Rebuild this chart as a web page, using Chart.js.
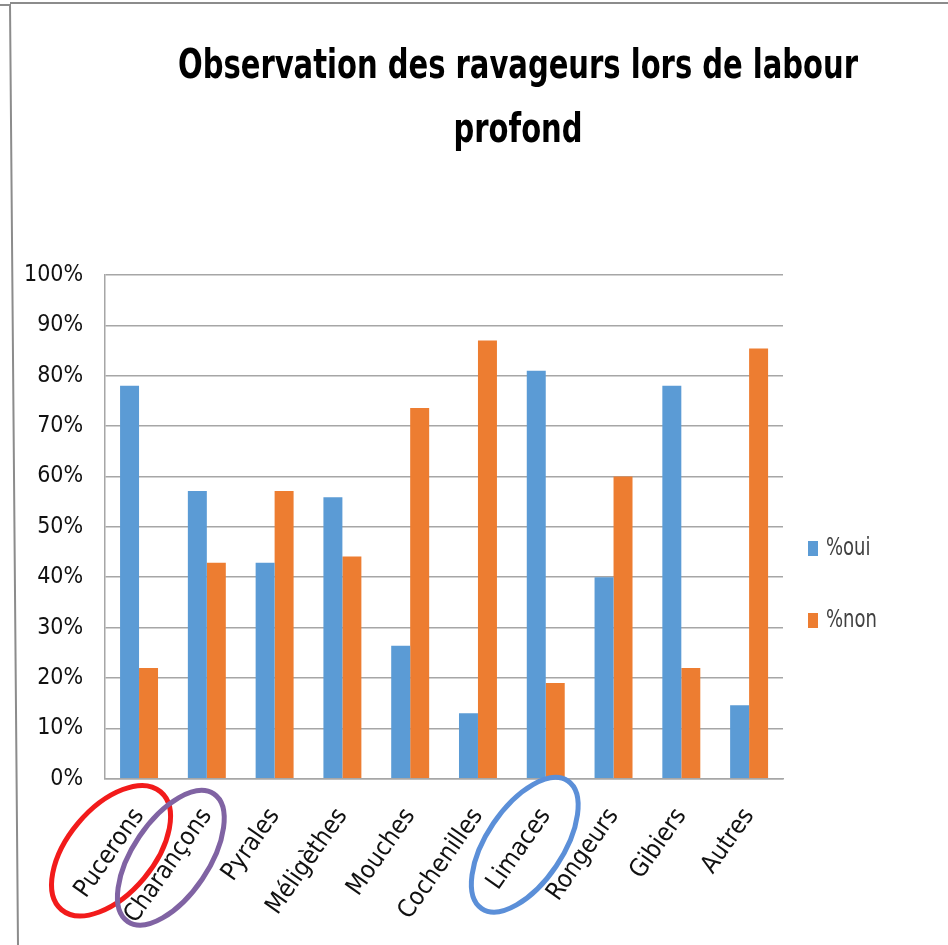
<!DOCTYPE html>
<html>
<head>
<meta charset="utf-8">
<title>Observation des ravageurs</title>
<script src="https://cdn.jsdelivr.net/npm/chart.js@4.4.1/dist/chart.umd.min.js"></script>
<style>
  html, body { margin: 0; padding: 0; background: #fff; }
  #wrap { width: 948px; height: 945px; }
</style>
</head>
<body>
<div id="wrap"><canvas id="chart" width="948" height="945"></canvas></div>
<script>
const categories = ['Pucerons', 'Charançons', 'Pyrales', 'Méligèthes', 'Mouches',
                    'Cochenilles', 'Limaces', 'Rongeurs', 'Gibiers', 'Autres'];
const oui = [78, 57.1, 42.9, 55.9, 26.4, 13, 81, 40, 78, 14.6];
const non = [22, 42.9, 57.1, 44.1, 73.6, 87, 19, 60, 22, 85.4];
const seriesNames = ['%oui', '%non'];
const titleLines = ['Observation des ravageurs lors de labour', 'profond'];

// hand-drawn circles around some labels (category index + look)
const circled = [
  { index: 0, color: '#f21b1b', dx: -28, dy: 72, rx: 77, ry: 43, angle: -50 },
  { index: 1, color: '#8063a3', dx: -36, dy: 79, rx: 77, ry: 38, angle: -56 },
  { index: 6, color: '#5b8fd8', dx: -21, dy: 66, rx: 77, ry: 38, angle: -56 }
];

const NARROW = "'DejaVu Sans Condensed', 'Liberation Sans', sans-serif";

// draw text squeezed horizontally (the original is a narrow font)
function squeezed(ctx, text, x, y, sx) {
  ctx.save();
  ctx.translate(x, y);
  ctx.scale(sx, 1);
  ctx.fillText(text, 0, 0);
  ctx.restore();
}

const decor = {
  id: 'decor',
  beforeDraw(chart) {
    const ctx = chart.ctx;
    ctx.save();
    ctx.fillStyle = '#fff';
    ctx.fillRect(0, 0, chart.width, chart.height);
    // page frame
    ctx.strokeStyle = '#8c8c8c';
    ctx.lineWidth = 2;
    ctx.beginPath();
    ctx.moveTo(10, 3); ctx.lineTo(948, 3);
    ctx.moveTo(0, 5); ctx.lineTo(10, 5);
    ctx.moveTo(10, 4); ctx.lineTo(18, 945);
    ctx.stroke();
    ctx.restore();
  },
  afterDraw(chart) {
    const ctx = chart.ctx;
    const area = chart.chartArea;
    const xs = chart.scales.x;
    ctx.save();

    // title, fitted to the original width
    ctx.fillStyle = '#000';
    ctx.textAlign = 'center';
    ctx.textBaseline = 'middle';
    ctx.font = 'bold 40px ' + NARROW;
    const sx = 680 / ctx.measureText(titleLines[0]).width;
    squeezed(ctx, titleLines[0], 518, 68, sx);
    squeezed(ctx, titleLines[1], 518, 132, sx);

    // legend
    ctx.font = '25px ' + NARROW;
    ctx.textAlign = 'left';
    chart.data.datasets.forEach((ds, i) => {
      const y = area.top + 273 + i * 72;
      ctx.fillStyle = ds.backgroundColor;
      ctx.fillRect(area.right + 25, y - 7, 10, 15);
      ctx.fillStyle = '#404040';
      squeezed(ctx, ds.label, area.right + 43, y, 0.8);
    });

    // circles
    ctx.lineWidth = 5;
    circled.forEach(c => {
      const cx = xs.getPixelForValue(c.index) + c.dx;
      const cy = area.bottom + c.dy;
      ctx.strokeStyle = c.color;
      ctx.beginPath();
      ctx.ellipse(cx, cy, c.rx, c.ry, c.angle * Math.PI / 180, 0, Math.PI * 2);
      ctx.stroke();
    });
    ctx.restore();
  }
};

new Chart(document.getElementById('chart'), {
  type: 'bar',
  data: {
    labels: categories,
    datasets: [
      { label: seriesNames[0], data: oui, backgroundColor: '#5b9bd5' },
      { label: seriesNames[1], data: non, backgroundColor: '#ed7d31' }
    ]
  },
  options: {
    responsive: false,
    animation: false,
    layout: { padding: { top: 275, left: 2, right: 165, bottom: 0 } },
    datasets: { bar: { categoryPercentage: 0.56, barPercentage: 1.0 } },
    plugins: {
      legend: { display: false },
      title: { display: false },
      tooltip: { enabled: false }
    },
    scales: {
      x: {
        grid: { display: false },
        border: { color: '#a6a6a6', width: 1.5 },
        ticks: {
          color: '#111',
          font: { family: NARROW, size: 25 },
          minRotation: 55,
          maxRotation: 55,
          padding: 16
        },
        // rotated labels may run past the plot's left edge, as in the original
        afterFit: s => { s.paddingLeft = 0; s.paddingRight = 0; }
      },
      y: {
        min: 0,
        max: 100,
        grid: { color: '#a6a6a6', lineWidth: 1.5, drawTicks: false },
        border: { color: '#a6a6a6', width: 1.5 },
        ticks: {
          stepSize: 10,
          color: '#111',
          padding: 22,
          font: { family: NARROW, size: 23 },
          callback: v => v + '%'
        }
      }
    }
  },
  plugins: [decor]
});
</script>
</body>
</html>
